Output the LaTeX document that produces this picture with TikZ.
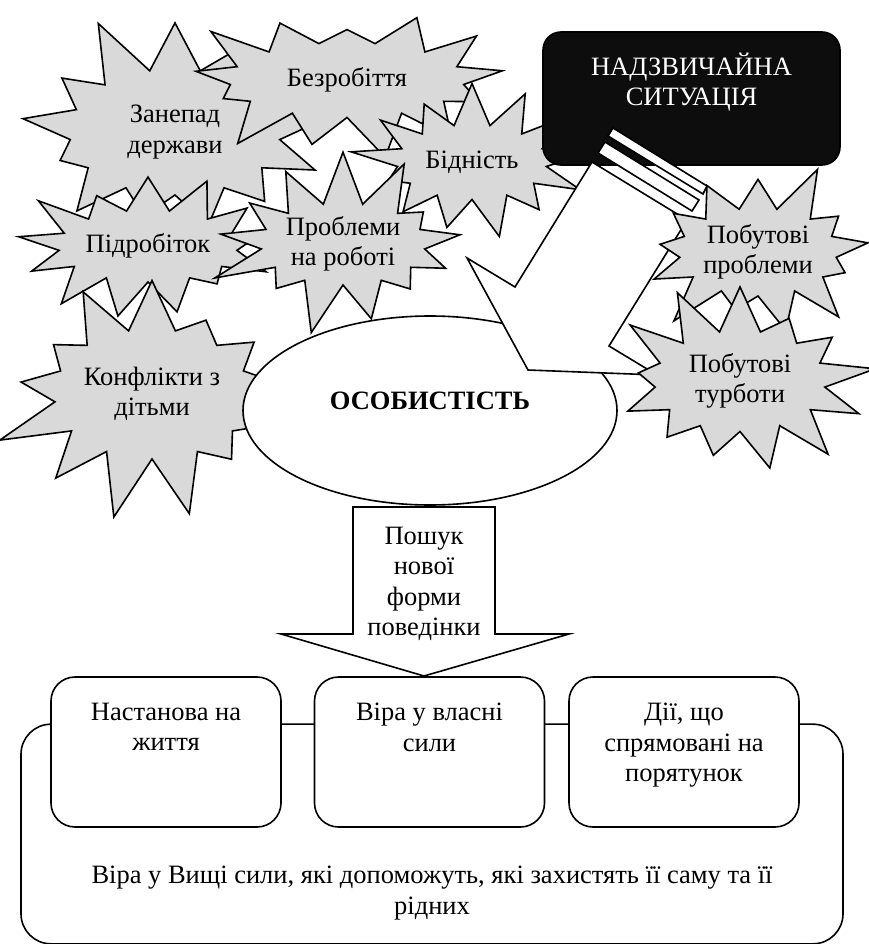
\documentclass[tikz,border=0pt]{standalone}
\usepackage{fontspec}
\setmainfont{Liberation Serif}
\usetikzlibrary{shapes.symbols,shapes.geometric}
\tikzset{every node/.append style={font=\fontsize{26.5}{30.5}\selectfont}}

\begin{document}
\begin{tikzpicture}[x=1pt,y=-1pt,line width=1.6pt,
    burst/.style={starburst,draw,fill=black!15,align=center,inner sep=1pt,starburst points=13},
    goal/.style={draw,fill=white,rounded corners=24pt,inner xsep=6pt,inner ysep=26pt}]
    \useasboundingbox (0,0) rectangle (868,944);

    % troubles around the person
    \foreach \name/\x/\y/\w/\h/\ph/\seed/\A in {
        decline/175/132/335/250/62/11/{Занепад\\держави},
        jobless/347/80/335/175/50/23/Безробіття,
        poverty/472/162/250/175/50/37/Бідність,
        sidejob/148/246/270/172/50/41/Підробіток,
        workprob/343/244/268/192/55/53/{Проблеми\\на роботі},
        conflicts/152/394/300/262/66/67/{Конфлікти з\\дітьми}} {
        \node[burst,minimum width=\w pt,minimum height=\h pt,
              starburst point height=\ph pt,random starburst=\seed] (\name) at (\x,\y) {\A};
    }

    \node[draw,fill=black!95,text=white,rounded corners=18pt,inner xsep=8pt,inner ysep=21pt] (crisis) at (691.5,98.5)
        {\parbox[c][91pt][t]{281pt}{\centering НАДЗВИЧАЙНА\\ СИТУАЦІЯ}};

    \node[ellipse,draw,fill=white,minimum width=374pt,minimum height=189pt,text height=17pt,text depth=20pt] (person) at (430,410.5)
        {\textbf{ОСОБИСТІСТЬ}};

    % striped arrow from the crisis
    \draw[fill=white] (592,162) -- (515,287) -- (467,258) -- (528,370) -- (657,375) -- (609,346) -- (687,220) -- cycle;
    \draw[fill=white] (613,128) -- (707,186) -- (703,194) -- (608,136) -- cycle;
    \draw[fill=white] (605,142) -- (699,200) -- (692,211) -- (598,153) -- cycle;

    \foreach \name/\x/\y/\w/\h/\ph/\seed/\A in {
        homeprob/758/252/232/188/50/71/{Побутові\\проблеми},
        homecare/740/381/275/205/52/83/{Побутові\\турботи}} {
        \node[burst,minimum width=\w pt,minimum height=\h pt,
              starburst point height=\ph pt,random starburst=\seed] (\name) at (\x,\y) {\A};
    }

    % way out
    \draw[fill=white] (353,507) -- (495,507) -- (495,634) -- (569,634) -- (424,676) -- (281,634) -- (353,634) -- cycle;
    \node[align=center] (search) at (424,584) {Пошук\\нової\\форми\\поведінки};

    \node[goal,rounded corners=30pt,inner ysep=24pt] (faith) at (432,834)
        {\parbox[c][166pt][b]{810pt}{\centering Віра у Вищі сили, які допоможуть, які захистять її саму та її\\ рідних}};
    \foreach \name/\x/\A in {attitude/166/{Настанова на\\життя},
        selfbelief/429.5/{Віра у власні\\сили},
        rescue/684/{Дії, що\\спрямовані на\\порятунок}} {
        \node[goal] (\name) at (\x,752) {\parbox[c][98pt][t]{218pt}{\centering \A}};
    }
\end{tikzpicture}
\end{document}
